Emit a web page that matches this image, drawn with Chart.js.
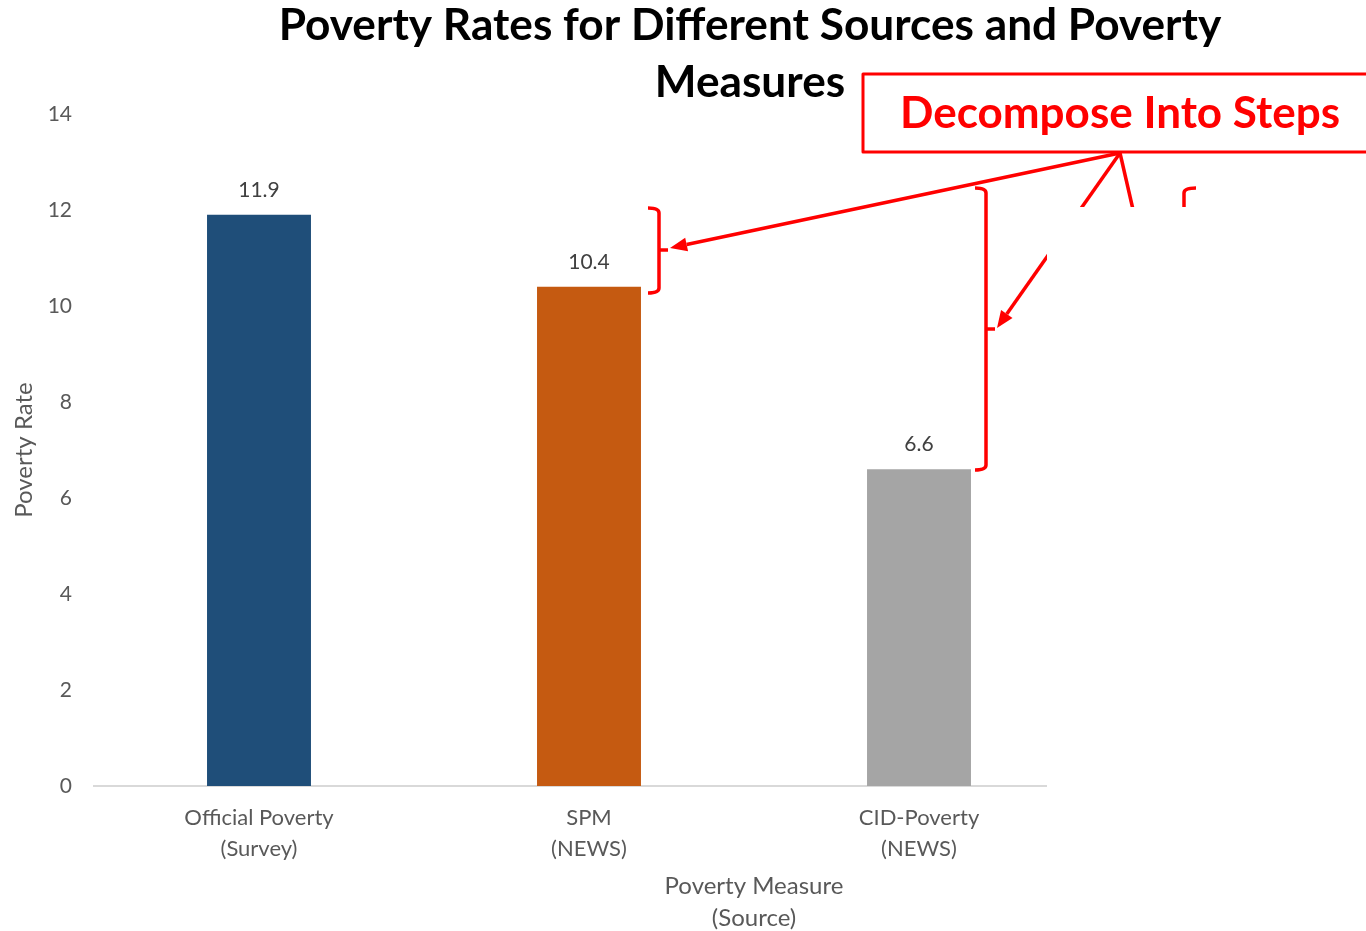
<!DOCTYPE html>
<html>
<head>
<meta charset="utf-8">
<script src="https://cdn.jsdelivr.net/npm/chart.js@4.4.1/dist/chart.umd.min.js"></script>
<style>
  html, body { margin: 0; padding: 0; background: #fff; overflow: hidden; }
  #wrap { position: relative; width: 1366px; height: 931px; }
</style>
</head>
<body>
<div id="wrap"><canvas id="c" width="1366" height="931"></canvas></div>
<script>
// Chart data
const categories = [['Official Poverty', '(Survey)'], ['SPM', '(NEWS)'], ['CID-Poverty', '(NEWS)']];
const povertyRates = [11.9, 10.4, 6.6];
const barColors = ['#1F4E79', '#C55A11', '#A5A5A5'];
const yTicks = [0, 2, 4, 6, 8, 10, 12, 14];
const chartTitle = ['Poverty Rates for Different Sources and Poverty', 'Measures'];
const xAxisTitle = ['Poverty Measure', '(Source)'];
const yAxisTitle = 'Poverty Rate';
const calloutText = 'Decompose Into Steps';

const FONT = 'Lato, "Open Sans", sans-serif';
const AXIS_GREY = '#595959';
const RED = '#FF0000';

// Scale a font so a string spans a target width
function fitFont(ctx, text, weight, targetWidth) {
  ctx.font = `${weight} 40px ${FONT}`;
  const w = ctx.measureText(text).width;
  return 40 * targetWidth / w;
}

// Value labels above each bar
const valueLabels = {
  id: 'valueLabels',
  afterDatasetsDraw(chart) {
    const ctx = chart.ctx;
    const meta = chart.getDatasetMeta(0);
    ctx.save();
    ctx.font = `21px ${FONT}`;
    ctx.fillStyle = '#404040';
    ctx.textAlign = 'center';
    ctx.textBaseline = 'middle';
    meta.data.forEach((bar, i) => {
      ctx.fillText(povertyRates[i].toFixed(1), bar.x, bar.y - 25);
    });
    ctx.restore();
  }
};

// Title, x-axis title and the red callout
const decorations = {
  id: 'decorations',
  afterDraw(chart) {
    const ctx = chart.ctx;
    ctx.save();

    // chart title
    const ts = fitFont(ctx, chartTitle[0], 'bold', 943);
    ctx.font = `bold ${ts}px ${FONT}`;
    ctx.fillStyle = '#000';
    ctx.textAlign = 'center';
    ctx.textBaseline = 'middle';
    ctx.fillText(chartTitle[0], 750, 26);
    ctx.fillText(chartTitle[1], 750, 83);

    // x-axis title
    ctx.font = `24px ${FONT}`;
    ctx.fillStyle = AXIS_GREY;
    ctx.fillText(xAxisTitle[0], 754, 886);
    ctx.fillText(xAxisTitle[1], 754, 918);

    // callout connectors
    ctx.strokeStyle = RED;
    ctx.fillStyle = RED;
    ctx.lineWidth = 3.5;
    ctx.lineCap = 'butt';
    ctx.lineJoin = 'round';
    const origin = [1120, 153];
    function arrow(x2, y2) {
      const [x1, y1] = origin;
      const ang = Math.atan2(y2 - y1, x2 - x1);
      const len = 17, half = 7;
      const bx = x2 - len * Math.cos(ang), by = y2 - len * Math.sin(ang);
      ctx.beginPath();
      ctx.moveTo(x1, y1);
      ctx.lineTo(bx, by);
      ctx.stroke();
      ctx.beginPath();
      ctx.moveTo(x2, y2);
      ctx.lineTo(bx + half * Math.sin(ang), by - half * Math.cos(ang));
      ctx.lineTo(bx - half * Math.sin(ang), by + half * Math.cos(ang));
      ctx.closePath();
      ctx.fill();
    }
    function rightBracket(x, top, bottom, mid) {
      ctx.beginPath();
      ctx.moveTo(x - 11, top);
      ctx.quadraticCurveTo(x, top, x, top + 5);
      ctx.lineTo(x, bottom - 5);
      ctx.quadraticCurveTo(x, bottom, x - 11, bottom);
      ctx.stroke();
      ctx.beginPath();
      ctx.moveTo(x, mid);
      ctx.lineTo(x + 9, mid);
      ctx.stroke();
    }
    rightBracket(659, 208, 293, 250);
    rightBracket(986, 188, 470, 329);
    arrow(670, 248);
    arrow(997, 328);
    ctx.beginPath();
    ctx.moveTo(origin[0], origin[1]);
    ctx.lineTo(1140, 240);
    ctx.stroke();
    ctx.beginPath();
    ctx.moveTo(1196, 188);
    ctx.quadraticCurveTo(1184, 188, 1184, 193);
    ctx.lineTo(1184, 260);
    ctx.stroke();

    // white panel over the right part of the plot
    ctx.fillStyle = '#fff';
    ctx.fillRect(1047, 207, 1366 - 1047, 931 - 207);

    // callout box
    ctx.fillStyle = '#fff';
    ctx.fillRect(863, 74, 520, 78);
    ctx.strokeStyle = RED;
    ctx.lineWidth = 3;
    ctx.strokeRect(863, 74, 520, 78);
    const cs = fitFont(ctx, calloutText, 'bold', 440);
    ctx.font = `bold ${cs}px ${FONT}`;
    ctx.fillStyle = RED;
    ctx.textAlign = 'center';
    ctx.textBaseline = 'middle';
    ctx.fillText(calloutText, 1120, 114);

    ctx.restore();
  }
};

new Chart(document.getElementById('c'), {
  type: 'bar',
  data: {
    labels: categories,
    datasets: [{
      data: povertyRates,
      backgroundColor: barColors,
      borderWidth: 0,
      barPercentage: 0.315,
      categoryPercentage: 1
    }]
  },
  options: {
    responsive: false,
    animation: false,
    events: [],
    layout: { padding: { left: 0, top: 114, right: 282, bottom: 0 } },
    plugins: { legend: { display: false }, tooltip: { enabled: false }, title: { display: false } },
    scales: {
      x: {
        grid: { display: false },
        border: { display: true, color: '#D9D9D9', width: 2 },
        ticks: { color: AXIS_GREY, font: { family: FONT, size: 22, lineHeight: 1.4 }, padding: 9, maxRotation: 0 },
        afterFit(scale) { scale.height = 145; }
      },
      y: {
        min: 0,
        max: 14,
        afterBuildTicks(scale) { scale.ticks = yTicks.map(v => ({ value: v })); },
        grid: { display: false, drawTicks: false },
        border: { display: false },
        ticks: { color: AXIS_GREY, font: { family: FONT, size: 21 }, padding: 22 },
        title: { display: true, text: yAxisTitle, color: AXIS_GREY, font: { family: FONT, size: 24 }, padding: { top: 10, bottom: 0 } },
        afterFit(scale) { scale.width = 94; }
      }
    }
  },
  plugins: [valueLabels, decorations]
});
</script>
</body>
</html>
